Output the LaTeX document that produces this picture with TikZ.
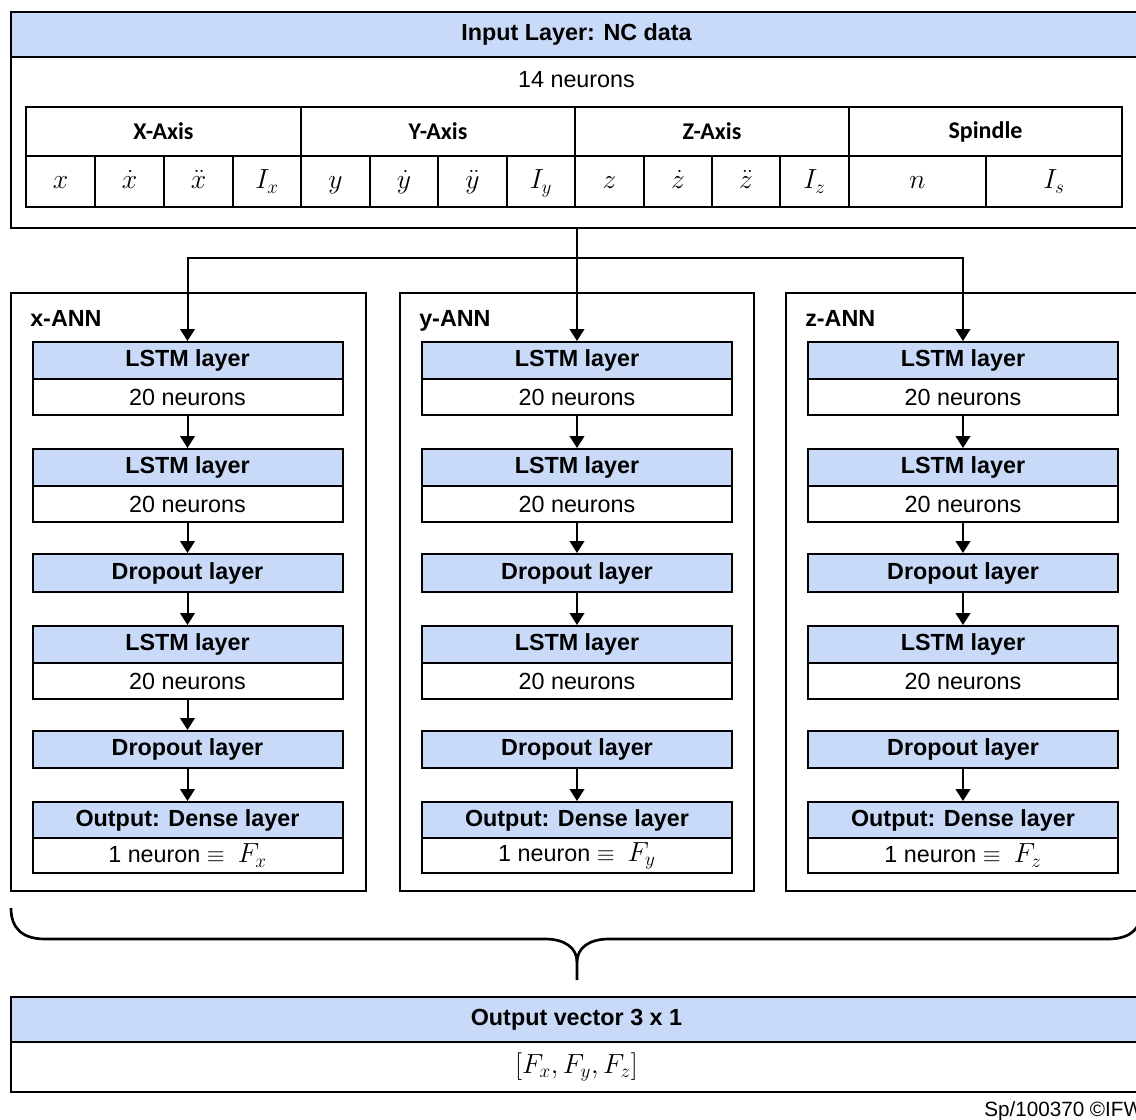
\documentclass[tikz,border=0pt]{standalone}
\usepackage{fontspec}
\setmainfont{Liberation Sans}
\newfontfamily\carl{Carlito}
\usetikzlibrary{arrows.meta,fit}
\definecolor{hdr}{HTML}{C9DAF8}
\newcommand{\mymathbig}[1]{{\fontsize{21}{24}\selectfont$#1$}}
\begin{document}
\begin{tikzpicture}[x=0.75pt,y=-0.75pt,
  outer/.style={draw=black,line width=2.2pt},
  thinl/.style={draw=black,line width=1.5pt},
  hd/.style={draw=black,line width=1.5pt,fill=hdr,minimum width=232.5pt,inner sep=0pt,font=\fontsize{17.5}{20}\selectfont\bfseries},
  bd/.style={draw=black,line width=1.5pt,fill=white,minimum width=232.5pt,inner sep=0pt,font=\fontsize{17.5}{20}\selectfont},
  conn/.style={line width=1.5pt},
  arr/.style={line width=1.5pt,-{Triangle[width=11pt,length=9pt]}},
  lab/.style={font=\fontsize{17.5}{20}\selectfont\bfseries,inner sep=0pt},
  txt/.style={font=\fontsize{17.5}{20}\selectfont,inner sep=0pt},
  grp/.style={font=\carl\fontsize{18}{20}\selectfont\bfseries,inner sep=0pt},
  mth/.style={font=\fontsize{21}{24}\selectfont,inner sep=0pt}]
\path[use as bounding box] (0,0) rectangle (1136,1120);
\clip (0,0) rectangle (1136,1120);

% ---------- input layer ----------
\node[draw=black,line width=1.5pt,fill=hdr,minimum width=848.25pt,minimum height=33.75pt,inner sep=0pt,
      font=\fontsize{17.5}{20}\selectfont\bfseries] (inhead) at (576.5,34.5) {Input Layer: NC data};
\node[outer,fit={(11,12) (1142,228)},inner sep=0pt] (inbox) {};
\node[txt] (inneur) at (576.5,80) {14 neurons};

% table
\draw[thinl] (26,107) rectangle (1122,207);
\draw[thinl] (26,156) -- (1122,156);
\foreach \xx in {301,575,849} \draw[thinl] (\xx,107) -- (\xx,207);
\foreach \xx in {95,164,233,370,438,507,644,712,780,986} \draw[thinl] (\xx,156) -- (\xx,207);
\node[grp] (gx) at (163.5,131.5) {X-Axis};
\node[grp] (gy) at (438,131.5) {Y-Axis};
\node[grp] (gz) at (712,131.5) {Z-Axis};
\node[grp] (gs) at (985.5,131.5) {Spindle};
\node[mth,anchor=base] (c1) at (60.5,189) {$x$};
\node[mth,anchor=base] (c2) at (129.5,189) {$\dot{x}$};
\node[mth,anchor=base] (c3) at (198.5,189) {$\ddot{x}$};
\node[mth,anchor=base] (c4) at (267,189) {$I_x$};
\node[mth,anchor=base] (c5) at (335.5,189) {$y$};
\node[mth,anchor=base] (c6) at (404,189) {$\dot{y}$};
\node[mth,anchor=base] (c7) at (472.5,189) {$\ddot{y}$};
\node[mth,anchor=base] (c8) at (541,189) {$I_y$};
\node[mth,anchor=base] (c9) at (609.5,189) {$z$};
\node[mth,anchor=base] (c10) at (678,189) {$\dot{z}$};
\node[mth,anchor=base] (c11) at (746,189) {$\ddot{z}$};
\node[mth,anchor=base] (c12) at (814.5,189) {$I_z$};
\node[mth,anchor=base] (c13) at (917.5,189) {$n$};
\node[mth,anchor=base] (c14) at (1054,189) {$I_s$};

% ---------- ANN columns ----------
\foreach \nm/\cx/\lab/\ol/\ra/\full in {x/187.5/x-ANN/11/366/1, y/577/y-ANN/400/754/0, z/963/z-ANN/786/1142/0} {
  \node[outer,fit={(\ol,293) (\ra,891)},inner sep=0pt] (\nm-ann) {};
  \node[lab,anchor=base west] (\nm-lab) at (\ol+19,326) {\lab};
  \node[hd,minimum height=27.75pt] (\nm-l1h) at (\cx,360.5) {LSTM layer};
  \node[bd,minimum height=27pt] (\nm-l1b) at (\cx,397) {20 neurons};
  \node[hd,minimum height=27.75pt] (\nm-l2h) at (\cx,467.5) {LSTM layer};
  \node[bd,minimum height=27pt] (\nm-l2b) at (\cx,504) {20 neurons};
  \node[hd,minimum height=28.5pt] (\nm-d1) at (\cx,573) {Dropout layer};
  \node[hd,minimum height=27.75pt] (\nm-l3h) at (\cx,644.5) {LSTM layer};
  \node[bd,minimum height=27pt] (\nm-l3b) at (\cx,681) {20 neurons};
  \node[hd,minimum height=27.75pt] (\nm-d2) at (\cx,749.5) {Dropout layer};
  \node[hd,minimum height=27pt] (\nm-oh) at (\cx,820) {Output: Dense layer};
  \node[bd,minimum height=26.25pt] (\nm-ob) at (\cx,855.5) {1 neuron $\equiv$\ \ \mymathbig{F_\nm}};
  \draw[arr] (\nm-l1b) -- (\nm-l2h);
  \draw[arr] (\nm-l2b) -- (\nm-d1);
  \draw[arr] (\nm-d1) -- (\nm-l3h);
  \ifnum\full=1 \draw[arr] (\nm-l3b) -- (\nm-d2); \fi
  \draw[arr] (\nm-d2) -- (\nm-oh);
}

% ---------- distribution connectors ----------
\coordinate (split) at (577,258);
\draw[conn] (inbox.south -| split) -- (split);
\draw[arr] (split) -| (x-l1h.north);
\draw[arr] (split) -- (y-l1h.north);
\draw[arr] (split) -| (z-l1h.north);

% ---------- brace ----------
\draw[line width=2pt] (11,908) .. controls (11,928) and (22,939) .. (45,939) -- (545,939)
   .. controls (565,939) and (577,948) .. (577,962) -- (577,980);
\draw[line width=2pt] (1142,908) .. controls (1142,928) and (1131,939) .. (1108,939) -- (609,939)
   .. controls (589,939) and (577,948) .. (577,962);

% ---------- output vector ----------
\node[draw=black,line width=1.5pt,fill=hdr,minimum width=848.25pt,minimum height=33.75pt,inner sep=0pt,
      font=\fontsize{17.5}{20}\selectfont\bfseries] (outhead) at (576.5,1019.5) {Output vector 3 x 1};
\node[outer,fit={(11,997) (1142,1092)},inner sep=0pt] (outbox) {};
\node[mth] (outvec) at (576.5,1067) {$\bigl[F_x, F_y, F_z\bigr]$};

\node[font=\fontsize{15.5}{18}\selectfont,inner sep=0pt,anchor=west] (copy) at (984,1111) {Sp/100370 ©IFW};
\end{tikzpicture}
\end{document}
